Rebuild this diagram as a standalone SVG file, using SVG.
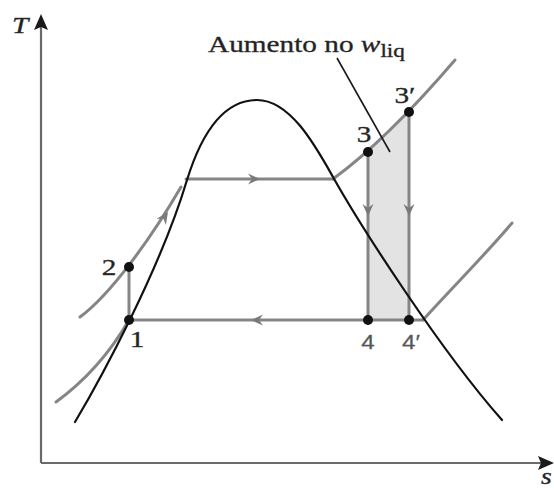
<svg xmlns="http://www.w3.org/2000/svg" xmlns:xlink="http://www.w3.org/1999/xlink" width="554" height="490" viewBox="0 0 554 490">
  <style>
    .gl { fill: none; stroke: #858585; stroke-width: 3; stroke-linecap: round; }
    .dome { fill: none; stroke: #111; stroke-width: 2.2; stroke-linecap: round; }
    .axis { fill: none; stroke: #6a6a6a; stroke-width: 2.2; }
    .pt { fill: #111; }
    .lbl { font-family: "Liberation Serif", "Times New Roman", serif; font-size: 24px; fill: #222; stroke: #333; stroke-width: 0.35; }
    .lbl4 { font-family: "Liberation Sans", Arial, sans-serif; font-size: 21px; fill: #555; stroke: #666; stroke-width: 0.3; }
  </style>
  <defs>
    <path id="ah" d="M0,0 L-12,-5.5 L-8,0 L-12,5.5 Z" fill="#7a7a7a"/>
  </defs>
  <rect width="554" height="490" fill="#fff"/>

  <g id="axes">
    <line class="axis" x1="41" y1="463" x2="41" y2="26"/>
    <line class="axis" x1="41" y1="463" x2="541" y2="463"/>
    <path d="M41,14 L48,30 L41,27 L34,30 Z" fill="#1a1a1a"/>
    <path d="M554,463 L538,456 L541,463 L538,470 Z" fill="#1a1a1a"/>
    <text class="lbl" font-style="italic" transform="translate(12,33) scale(1.22,1)">T</text>
    <text class="lbl" font-style="italic" font-size="20" transform="translate(541,484) scale(1.15,1)">s</text>
  </g>

  <g id="shaded-area">
    <path d="M368,152 C380,142 395,129 409,112 L409,320 L368,320 Z" fill="#e3e3e3"/>
  </g>

  <g id="connectors">
    <path class="gl" d="M56,402 Q100,370 129,320"/>
    <path class="gl" d="M80,317 C110,295 150,240 181,187"/>
    <line class="gl" x1="129" y1="267" x2="129" y2="320"/>
    <line class="gl" x1="186" y1="179" x2="333" y2="179"/>
    <path class="gl" d="M333,179 C355,163 395,130 455,60"/>
    <line class="gl" x1="368" y1="152" x2="368" y2="320"/>
    <line class="gl" x1="409" y1="112" x2="409" y2="320"/>
    <line class="gl" x1="129" y1="320" x2="423" y2="320"/>
    <path class="gl" d="M423,320 C450,290 485,255 512,223"/>
    <use xlink:href="#ah" transform="translate(168,212) rotate(-56)"/>
    <use xlink:href="#ah" transform="translate(260,179)"/>
    <use xlink:href="#ah" transform="translate(251,320) rotate(180)"/>
    <use xlink:href="#ah" transform="translate(368,216) rotate(90)"/>
    <use xlink:href="#ah" transform="translate(409,216) rotate(90)"/>
    <line x1="337" y1="58" x2="390" y2="152" stroke="#1a1a1a" stroke-width="1.6"/>
  </g>

  <g id="dome">
    <path class="dome" d="M75,422 C100,380 160,270 187,180 C201,135 222,100 257,100 C290,100 315,145 333,177 C360,225 440,350 502,420"/>
  </g>

  <g id="state-1"><circle class="pt" cx="129" cy="320" r="5"/><text class="lbl" text-anchor="middle" transform="translate(137,347) scale(1.22,1)">1</text></g>
  <g id="state-2"><circle class="pt" cx="129" cy="267" r="5"/><text class="lbl" text-anchor="middle" transform="translate(109,275) scale(1.22,1)">2</text></g>
  <g id="state-3"><circle class="pt" cx="368" cy="152" r="5"/><text class="lbl" text-anchor="middle" transform="translate(364,142) scale(1.22,1)">3</text></g>
  <g id="state-3p"><circle class="pt" cx="409" cy="112" r="5"/><text class="lbl" text-anchor="middle" transform="translate(405,103) scale(1.22,1)">3′</text></g>
  <g id="state-4"><circle class="pt" cx="368" cy="320" r="5"/><text class="lbl4" text-anchor="middle" transform="translate(368,349) scale(1.15,1)">4</text></g>
  <g id="state-4p"><circle class="pt" cx="409" cy="320" r="5"/><text class="lbl4" text-anchor="middle" transform="translate(411,349) scale(1.15,1)">4′</text></g>

  <g id="label-aumento">
    <text class="lbl" font-size="25" transform="translate(208,52) scale(1.22,1)">Aumento no <tspan font-style="italic">w</tspan><tspan font-size="19" dy="5">liq</tspan></text>
  </g>
</svg>
